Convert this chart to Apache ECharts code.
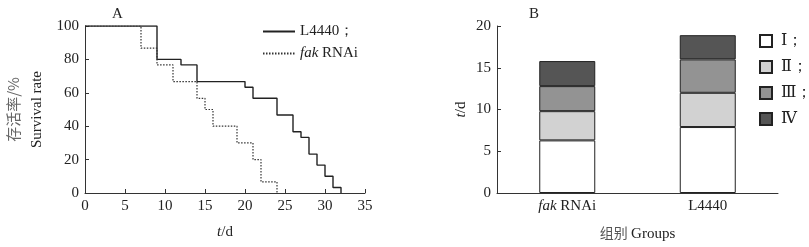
<!DOCTYPE html>
<html><head><meta charset="utf-8">
<script src="https://cdn.jsdelivr.net/npm/echarts@6/dist/echarts.min.js"></script>
<style>html,body{margin:0;padding:0;background:#fff}#c{width:809px;height:247px}</style>
</head><body><div id="c"></div>
<script>
// Panel A: survival (Kaplan-Meier style step data)
const l4440Times = [0, 9, 12, 14, 20, 21, 24, 26, 27, 28, 29, 30, 31, 32];
const l4440Surv  = [100, 80, 76.7, 66.7, 63.3, 56.7, 46.7, 36.7, 33.3, 23.3, 16.7, 10, 3.3, 0];
const fakTimes   = [0, 7, 9, 11, 14, 15, 16, 19, 21, 22, 24];
const fakSurv    = [100, 86.7, 76.7, 66.7, 56.7, 50, 40, 30, 20, 6.7, 0];
// Panel B: stacked durations of stages
const groups = ['fak RNAi', 'L4440'];
const stageNames = ['Ⅰ；', 'Ⅱ；', 'Ⅲ；', 'Ⅳ'];
const stageI   = [6.3, 7.9];
const stageII  = [3.5, 4.1];
const stageIII = [3.0, 4.0];
const stageIV  = [3.0, 2.9];
const stageColors = ['#ffffff', '#d2d2d2', '#939393', '#555555'];

const serif = 'Liberation Serif';
const txt = '#222';
const axisLine = {lineStyle: {color: '#333', width: 1}};
const axisTick = {inside: true, length: 4, lineStyle: {color: '#333'}};
const label = {color: txt, fontFamily: serif, fontSize: 15, margin: 6};

const chart = echarts.init(document.getElementById('c'));
const stageData = [stageI, stageII, stageIII, stageIV];
chart.setOption({
  animation: false,
  title: [
    {text: 'A', left: 107, top: 2, textStyle: {fontFamily: serif, fontSize: 15, fontWeight: 'normal', color: txt}},
    {text: 'B', left: 524, top: 2, textStyle: {fontFamily: serif, fontSize: 15, fontWeight: 'normal', color: txt}}
  ],
  legend: [
    {
      data: ['L4440；', 'fak RNAi'], orient: 'vertical', left: 257, top: 19,
      itemWidth: 32, itemHeight: 14, itemGap: 7,
      itemStyle: {opacity: 0},
      textStyle: {fontFamily: serif, fontSize: 15, color: txt,
        rich: {i: {fontStyle: 'italic', fontFamily: serif, fontSize: 15, color: txt}, n: {fontFamily: serif, fontSize: 15, color: txt}}},
      formatter: n => n === 'fak RNAi' ? '{i|fak} {n|RNAi}' : n
    },
    {
      data: stageNames, orient: 'vertical', left: 754, top: 28,
      icon: 'rect', itemWidth: 12, itemHeight: 12, itemGap: 10,
      textStyle: {fontFamily: 'Liberation Serif, DejaVu Serif', fontSize: 16, color: txt, padding: [0, 0, 0, 4]}
    }
  ],
  grid: [
    {left: 85, right: 444, top: 26, bottom: 54, containLabel: false, outerBoundsMode: 'none'},
    {left: 497, right: 31, top: 26, bottom: 54, containLabel: false, outerBoundsMode: 'none'}
  ],
  xAxis: [
    {
      gridIndex: 0, type: 'value', min: 0, max: 35, interval: 5,
      axisLine, axisTick, axisLabel: label, splitLine: {show: false},
      name: '{i|t}/d', nameLocation: 'middle', nameGap: 32,
      nameTextStyle: {fontFamily: serif, fontSize: 15, color: txt,
        rich: {i: {fontStyle: 'italic', fontFamily: serif, fontSize: 15, color: txt}}}
    },
    {
      gridIndex: 1, type: 'category', data: groups,
      axisLine, axisTick: {inside: true, length: 4, lineStyle: {color: '#333'}},
      axisLabel: Object.assign({}, label, {
        formatter: v => v === 'fak RNAi' ? '{i|fak} {n|RNAi}' : v,
        rich: {i: {fontStyle: 'italic', fontFamily: serif, fontSize: 15, color: txt}, n: {fontFamily: serif, fontSize: 15, color: txt}}
      }),
      name: '{c|组别} {e|Groups}', nameLocation: 'middle', nameGap: 32,
      nameTextStyle: {
        rich: {
          c: {fontFamily: 'Noto Sans CJK SC', fontSize: 14, color: '#555', lineHeight: 18, padding: [0, 0, 3, 0]},
          e: {fontFamily: serif, fontSize: 15, color: txt, lineHeight: 18}
        }
      }
    }
  ],
  yAxis: [
    {
      gridIndex: 0, type: 'value', min: 0, max: 100, interval: 20,
      axisLine: Object.assign({show: true}, axisLine), axisTick: Object.assign({show: true}, axisTick),
      axisLabel: label, splitLine: {show: false},
      name: '{c|存活率/%}\n{e|Survival rate}', nameLocation: 'middle', nameGap: 36, nameRotate: 90,
      nameTextStyle: {
        rich: {
          c: {fontFamily: 'Noto Sans CJK SC', fontSize: 15, color: '#666', lineHeight: 24},
          e: {fontFamily: serif, fontSize: 15, color: txt, lineHeight: 24}
        }
      }
    },
    {
      gridIndex: 1, type: 'value', min: 0, max: 20, interval: 5,
      axisLine: Object.assign({show: true}, axisLine), axisTick: Object.assign({show: true}, axisTick),
      axisLabel: label, splitLine: {show: false},
      name: '{i|t}/d', nameLocation: 'middle', nameGap: 28, nameRotate: 90,
      nameTextStyle: {fontFamily: serif, fontSize: 15, color: txt,
        rich: {i: {fontStyle: 'italic', fontFamily: serif, fontSize: 15, color: txt}}}
    }
  ],
  series: [
    {
      name: 'L4440；', type: 'line', step: 'end', xAxisIndex: 0, yAxisIndex: 0,
      symbol: 'none', data: l4440Times.map((t, i) => [t, l4440Surv[i]]),
      lineStyle: {color: '#222', width: 1.4, type: 'solid'}, itemStyle: {color: '#222'}
    },
    {
      name: 'fak RNAi', type: 'line', step: 'end', xAxisIndex: 0, yAxisIndex: 0,
      symbol: 'none', data: fakTimes.map((t, i) => [t, fakSurv[i]]),
      lineStyle: {color: '#333', width: 1.2, type: [1.5, 1.5]}, itemStyle: {color: '#333'}
    }
  ].concat(stageNames.map((n, k) => ({
    name: n, type: 'bar', stack: 'total', xAxisIndex: 1, yAxisIndex: 1,
    barWidth: 56, data: stageData[k],
    itemStyle: {color: stageColors[k], borderColor: '#222', borderWidth: 1}
  })))
});
</script></body></html>
